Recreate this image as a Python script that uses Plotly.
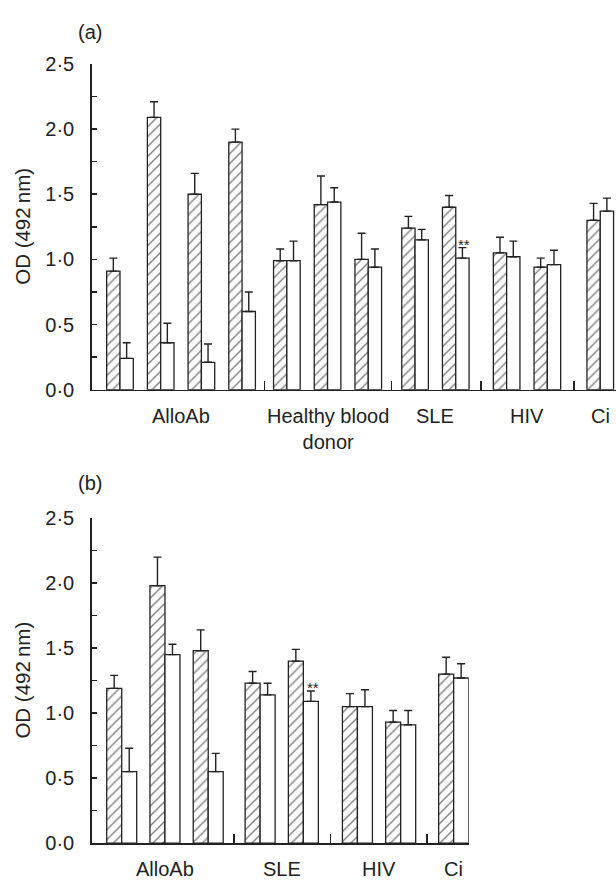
import plotly.graph_objects as go

# ---------------- data ----------------
categories_a = ["AlloAb", "Healthy blood<br>donor", "SLE", "HIV", "Ci"]
groups_per_category_a = [4, 3, 2, 2, 1]
hatched_a = [0.91, 2.09, 1.50, 1.90, 0.99, 1.42, 1.00, 1.24, 1.40, 1.05, 0.94, 1.30]
hatched_err_a = [0.10, 0.12, 0.16, 0.10, 0.09, 0.22, 0.20, 0.09, 0.09, 0.12, 0.07, 0.13]
white_a = [0.24, 0.36, 0.21, 0.60, 0.99, 1.44, 0.94, 1.15, 1.01, 1.02, 0.96, 1.37]
white_err_a = [0.12, 0.15, 0.14, 0.15, 0.15, 0.11, 0.14, 0.08, 0.08, 0.12, 0.11, 0.10]
significant_a = 8  # index of group whose white bar carries "**"

categories_b = ["AlloAb", "SLE", "HIV", "Ci"]
groups_per_category_b = [3, 2, 2, 1]
hatched_b = [1.19, 1.98, 1.48, 1.23, 1.40, 1.05, 0.93, 1.30]
hatched_err_b = [0.10, 0.22, 0.16, 0.09, 0.09, 0.10, 0.09, 0.13]
white_b = [0.55, 1.45, 0.55, 1.14, 1.09, 1.05, 0.91, 1.27]
white_err_b = [0.18, 0.08, 0.14, 0.09, 0.08, 0.13, 0.11, 0.11]
significant_b = 4

y_tick_values = [0, 0.25, 0.5, 0.75, 1.0, 1.25, 1.5, 1.75, 2.0, 2.25, 2.5]
y_tick_labels = ["0·0", "", "0·5", "", "1·0", "", "1·5", "", "2·0", "", "2·5"]
y_title = "OD (492\u2009nm)"
panel_labels = ["(a)", "(b)"]
sig_text = "**"

# ---------------- layout helpers ----------------
W, H = 616, 887
FONT = "Liberation Sans, Arial, Helvetica, sans-serif"
INK = "#222222"
FS = 20


def group_centers(groups, gaps):
    xs, k, off = [], 0, 0.0
    for ci, n in enumerate(groups):
        if ci > 0:
            off += gaps[ci - 1]
        for _ in range(n):
            xs.append(k + off)
            k += 1
    return xs


def separators(groups, centers):
    seps, k = [], 0
    for n in groups[:-1]:
        k += n
        seps.append((centers[k - 1] + centers[k]) / 2)
    return seps


def cat_centers(groups, centers):
    out, k = [], 0
    for n in groups:
        out.append(sum(centers[k:k + n]) / n)
        k += n
    return out


fig = go.Figure()

panels = [
    dict(cats=categories_a, groups=groups_per_category_a, h=hatched_a, he=hatched_err_a,
         w=white_a, we=white_err_a, sig=significant_a, gaps=[0.1, 0.15, 0.25, 0.3],
         bw=0.327, xr_left=-0.695, px_unit=40.7, x0=91.7, x1=616.0,
         ytop=54.3, ybot=388.3, xa="x", ya="y", label_y=22),
    dict(cats=categories_b, groups=groups_per_category_b, h=hatched_b, he=hatched_err_b,
         w=white_b, we=white_err_b, sig=significant_b, gaps=[0.2, 0.25, 0.225],
         bw=0.347, xr_left=-0.694, px_unit=43.25, x0=91.7, x1=468.7,
         ytop=520.0, ybot=853.3, xa="x2", ya="y2", label_y=484),
]

for pi, p in enumerate(panels):
    c = group_centers(p["groups"], p["gaps"])
    bw = p["bw"]
    n = len(c)
    xa, ya = p["xa"], p["ya"]
    line = dict(color=INK, width=1.3)
    fig.add_trace(go.Bar(
        x=[v - bw / 2 for v in c], y=p["h"], width=bw, xaxis=xa, yaxis=ya,
        marker=dict(color="white", line=line,
                    pattern=dict(shape="/", size=7, solidity=0.2,
                                 fgcolor="#000000", bgcolor="white")),
        error_y=dict(type="data", symmetric=False, array=p["he"], arrayminus=[0] * n,
                     color=INK, thickness=1.4, width=4),
        showlegend=False, hoverinfo="skip"))
    fig.add_trace(go.Bar(
        x=[v + bw / 2 for v in c], y=p["w"], width=bw, xaxis=xa, yaxis=ya,
        marker=dict(color="white", line=line),
        error_y=dict(type="data", symmetric=False, array=p["we"], arrayminus=[0] * n,
                     color=INK, thickness=1.4, width=4),
        showlegend=False, hoverinfo="skip"))

    span_units = (p["x1"] - p["x0"]) / p["px_unit"]
    xr = [p["xr_left"], p["xr_left"] + span_units]
    ydom = [1 - p["ybot"] / H, 1 - p["ytop"] / H]
    xdom = [p["x0"] / W, p["x1"] / W]
    key_x = "xaxis" if pi == 0 else "xaxis2"
    key_y = "yaxis" if pi == 0 else "yaxis2"
    fig.layout[key_x] = dict(
        domain=xdom, range=xr, anchor=ya, showgrid=False, zeroline=False,
        showline=True, linecolor=INK, linewidth=1.5,
        tickvals=separators(p["groups"], c), ticks="inside", ticklen=9,
        tickwidth=1.5, tickcolor=INK, showticklabels=False, fixedrange=True)
    fig.layout[key_y] = dict(
        domain=ydom, range=[0, 2.5], anchor=xa, showgrid=False, zeroline=False,
        showline=True, linecolor=INK, linewidth=1.5,
        tickvals=y_tick_values, ticktext=y_tick_labels, ticks="inside", ticklen=5,
        tickwidth=1.5, tickcolor=INK, ticklabelstandoff=12,
        tickfont=dict(family=FONT, size=FS, color=INK), fixedrange=True)

    # category labels
    for name, cx in zip(p["cats"], cat_centers(p["groups"], c)):
        fig.add_annotation(x=cx, y=0, xref=xa, yref=ya + " domain", text=name,
                           showarrow=False, yanchor="top", yshift=-13,
                           font=dict(family=FONT, size=FS, color=INK))
    # significance marker
    s = p["sig"]
    fig.add_annotation(x=c[s] + bw / 2 + 0.05, y=p["w"][s] + p["we"][s], xref=xa, yref=ya,
                       text=sig_text, showarrow=False, yanchor="bottom", yshift=-7,
                       font=dict(family=FONT, size=15, color=INK))
    # y title
    fig.add_annotation(x=23 / W, y=(ydom[0] + ydom[1]) / 2, xref="paper", yref="paper",
                       text=y_title, textangle=-90, showarrow=False,
                       xanchor="center", yanchor="middle",
                       font=dict(family=FONT, size=20.5, color=INK))
    # panel label
    fig.add_annotation(x=90 / W, y=1 - p["label_y"] / H, xref="paper", yref="paper",
                       text=panel_labels[pi], showarrow=False,
                       xanchor="center", yanchor="middle",
                       font=dict(family=FONT, size=FS, color=INK))

fig.update_layout(
    width=W, height=H, margin=dict(l=0, r=0, t=0, b=0),
    paper_bgcolor="white", plot_bgcolor="white", barmode="overlay",
    bargap=0, font=dict(family=FONT, color=INK))

fig.write_html(
    "out.html",
    config={"displayModeBar": False, "staticPlot": True},
    post_script="document.body.style.margin='0';document.body.style.overflow='hidden';",
)
